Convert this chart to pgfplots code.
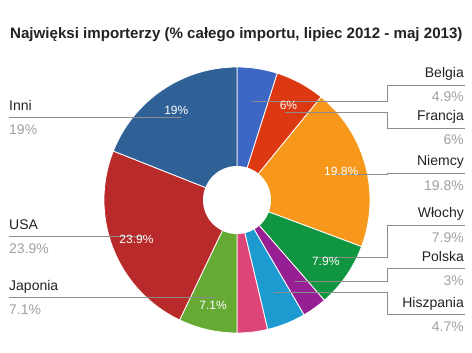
\documentclass[border=0pt]{standalone}
\usepackage{pgfplots}
\usepackage{pgfplotstable}
\pgfplotsset{compat=1.18}
\usepackage{fontspec}
\setmainfont{Liberation Sans}
\definecolor{gA}{HTML}{3D67C4}
\definecolor{gB}{HTML}{DC3912}
\definecolor{gC}{HTML}{F7981D}
\definecolor{gD}{HTML}{109640}
\definecolor{gE}{HTML}{962093}
\definecolor{gF}{HTML}{1D9AD0}
\definecolor{gG}{HTML}{DD4477}
\definecolor{gH}{HTML}{66AA33}
\definecolor{gI}{HTML}{B92B2B}
\definecolor{gJ}{HTML}{2F6196}
\definecolor{leadgray}{HTML}{8C8C8C}
\definecolor{valgray}{HTML}{A0A0A0}
\definecolor{nametext}{HTML}{222222}
\tikzset{
  leader/.style={draw=leadgray,line width=0.8pt},
  nm/.style={font=\fontsize{14}{16}\selectfont,text=nametext,inner sep=0pt},
  vl/.style={font=\fontsize{14}{16}\selectfont,text=valgray,inner sep=0pt},
  inl/.style={font=\fontsize{12}{14}\selectfont,text=white,inner sep=0pt},
}
% value, colour, label line y (px), side (1 right, -1 left, 0 none), label in slice
\pgfplotstableread{
name value color ly side show
Belgia 4.9 gA 85 1 0
Francja 6 gB 128 1 1
Niemcy 19.8 gC 173 1 1
Włochy 7.9 gD 225 1 1
Polska 3 gE 268 1 0
Hiszpania 4.7 gF 314 1 0
Inne 3.7 gG 0 0 0
Japonia 7.1 gH 298 -1 1
USA 23.9 gI 237 -1 1
Inni 19 gJ 117 -1 1
}\piedata
\begin{document}
\begin{tikzpicture}
\begin{axis}[x=1pt,y=1pt,xmin=0,xmax=472,ymin=0,ymax=353,y dir=reverse,
  hide axis,clip=false,enlargelimits=false,scale only axis]
\path (axis cs:0,0) rectangle (axis cs:472,353);
\node[anchor=base west,inner sep=0pt,text=nametext,
  font=\bfseries\fontsize{15.1}{18}\selectfont] at (axis cs:10,39)
  {Najwięksi importerzy (\% całego importu, lipiec 2012 - maj 2013)};
\gdef\cum{0}
\pgfplotsinvokeforeach{0,...,9}{%
  \pgfplotstablegetelem{#1}{value}\of\piedata \let\pv\pgfplotsretval
  \pgfplotstablegetelem{#1}{color}\of\piedata \let\pcol\pgfplotsretval
  \pgfmathsetmacro\aS{90-3.6*\cum}%
  \pgfmathsetmacro\aE{90-3.6*(\cum+\pv)}%
  \pgfmathsetmacro\sx{237+133*cos(\aS)}%
  \pgfmathsetmacro\sy{200-133*sin(\aS)}%
  \edef\tmp{\noexpand\fill[fill=\pcol,draw=white,line width=0.8pt,line join=round]
    (axis cs:237,200) -- (axis cs:\sx,\sy) arc[start angle=\aS,end angle=\aE,radius=133pt] -- cycle;}\tmp
  \pgfmathsetmacro\newcum{\cum+\pv}\global\let\cum\newcum
}
\fill[white] (axis cs:237,200) circle[radius=34pt];
\gdef\cum{0}
\pgfplotsinvokeforeach{0,...,9}{%
  \pgfplotstablegetelem{#1}{value}\of\piedata \let\pv\pgfplotsretval
  \pgfplotstablegetelem{#1}{name}\of\piedata \let\pname\pgfplotsretval
  \pgfplotstablegetelem{#1}{ly}\of\piedata \let\ply\pgfplotsretval
  \pgfplotstablegetelem{#1}{side}\of\piedata \let\pside\pgfplotsretval
  \pgfplotstablegetelem{#1}{show}\of\piedata \let\pshow\pgfplotsretval
  \pgfmathsetmacro\aM{90-3.6*(\cum+\pv/2)}%
  \pgfmathsetmacro\px{237+100*cos(\aM)}%
  \pgfmathsetmacro\py{200-100*sin(\aM)}%
  \pgfmathsetmacro\tx{237+108*cos(\aM)}%
  \pgfmathsetmacro\ty{200-108*sin(\aM)}%
  \ifnum\pside=1
    \pgfmathsetmacro\na{\ply-7}%
    \pgfmathsetmacro\nb{\ply+17}%
    \edef\tmp{\noexpand\draw[leader] (axis cs:\px,\py) -| (axis cs:387,\ply) -- (axis cs:465,\ply);
      \noexpand\node[nm,anchor=base east] at (axis cs:464,\na) {\pname};
      \noexpand\node[vl,anchor=base east] at (axis cs:464,\nb) {\pv\noexpand\%};}\tmp
  \fi
  \ifnum\pside=-1
    \pgfmathsetmacro\na{\py-7}%
    \pgfmathsetmacro\nb{\py+17}%
    \edef\tmp{\noexpand\draw[leader] (axis cs:\px,\py) -- (axis cs:9,\py);
      \noexpand\node[nm,anchor=base west] at (axis cs:9,\na) {\pname};
      \noexpand\node[vl,anchor=base west] at (axis cs:9,\nb) {\pv\noexpand\%};}\tmp
  \fi
  \ifnum\pshow=1
    \edef\tmp{\noexpand\node[inl] at (axis cs:\tx,\ty) {\pv\noexpand\%};}\tmp
  \fi
  \pgfmathsetmacro\newcum{\cum+\pv}\global\let\cum\newcum
}
\end{axis}
\end{tikzpicture}
\end{document}
